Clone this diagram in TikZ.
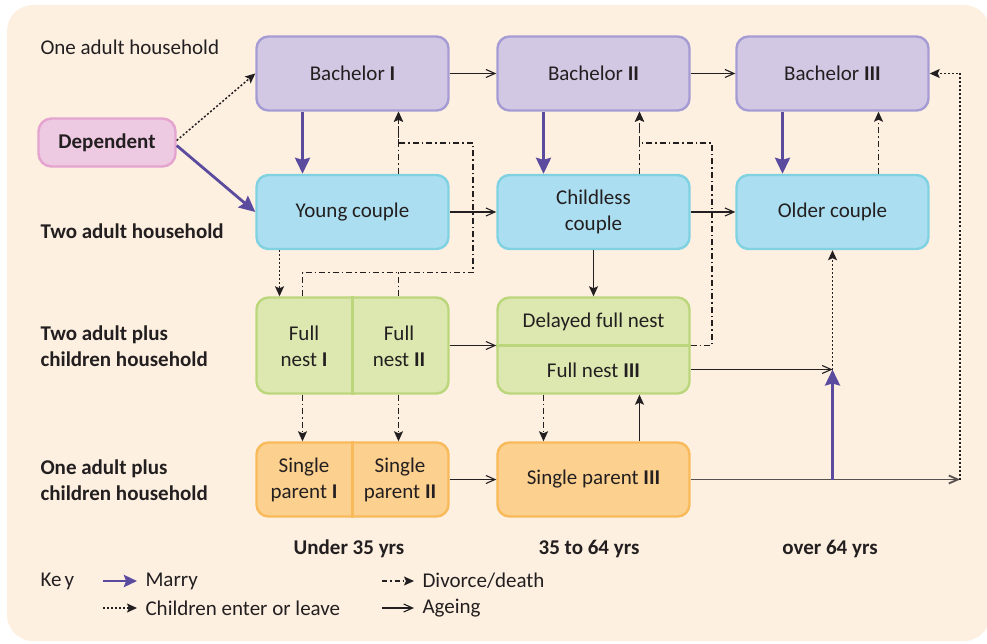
\documentclass[tikz,border=0pt]{standalone}
\usepackage{fontspec}
\setmainfont{Carlito}
\usetikzlibrary{arrows.meta}
\definecolor{bg}{HTML}{FDF0E1}
\definecolor{ink}{HTML}{231F20}
\definecolor{greyline}{HTML}{58504F}
\definecolor{marryc}{HTML}{5B4B9E}
\definecolor{bachf}{HTML}{D3C8E3}
\definecolor{bachd}{HTML}{A69CD4}
\definecolor{coupf}{HTML}{AADEF0}
\definecolor{coupd}{HTML}{80D2E2}
\definecolor{nestf}{HTML}{DCE8B0}
\definecolor{nestd}{HTML}{BCD67C}
\definecolor{sparf}{HTML}{FCD08F}
\definecolor{spard}{HTML}{F9BA5C}
\definecolor{depf}{HTML}{EEC9E2}
\definecolor{depd}{HTML}{E4A4CF}
\newcommand{\rnum}[1]{{\bfseries #1}}
\begin{document}
\begin{tikzpicture}[x=1pt,y=-1pt,
  every node/.style={font=\fontsize{21}{26}\selectfont, text=ink},
  stage/.style={rounded corners=12pt, line width=2.4pt, minimum width=192pt, minimum height=74pt, align=center, inner sep=0pt},
  bach/.style={stage, fill=bachf, draw=bachd},
  coup/.style={stage, fill=coupf, draw=coupd},
  nest/.style={stage, fill=nestf, draw=nestd},
  spar/.style={stage, fill=sparf, draw=spard},
  depn/.style={rounded corners=13pt, line width=2.4pt, minimum width=137pt, minimum height=48pt, fill=depf, draw=depd, inner sep=0pt},
  txt/.style={align=center, inner sep=0pt},
  lbl/.style={anchor=west, align=left},
  boldlbl/.style={lbl, font=\fontsize{21}{26}\selectfont\bfseries},
  marry/.style={draw=marryc, line width=2.8pt, -{Stealth[length=16pt,width=15pt,inset=2pt]}},
  ageing/.style={draw=ink, line width=1.1pt, -{Straight Barb[length=9pt,width=8pt]}},
  childs/.style={draw=ink, line width=1.5pt, dash pattern=on 2pt off 2pt, -{Stealth[length=10pt,width=9pt,inset=2pt]}},
  divline/.style={draw=ink, line width=1.4pt, dash pattern=on 6pt off 3pt on 1.5pt off 3pt},
  divorce/.style={divline, -{Stealth[length=10pt,width=9pt,inset=2pt]}},
  solidf/.style={draw=ink, line width=1.3pt, -{Stealth[length=10pt,width=9pt,inset=2pt]}}
]
\useasboundingbox (0,0) rectangle (987,644);
\fill[white] (0,0) rectangle (987,644);
\fill[bg, rounded corners=26pt] (7,5) rectangle (990,641);

% row labels
\node[lbl] (l1) at (37,47) {One adult household};
\node[boldlbl] (l2) at (37,231) {Two adult household};
\node[boldlbl] (l3) at (37,346) {Two adult plus\\children household};
\node[boldlbl] (l4) at (37,480) {One adult plus\\children household};

% stage boxes
\node[bach] (b1) at (352.5,73.5) {Bachelor \rnum{I}};
\node[bach] (b2) at (593.5,73.5) {Bachelor \rnum{II}};
\node[bach] (b3) at (832.5,73.5) {Bachelor \rnum{III}};
\node[coup] (yc) at (352.5,212) {Young couple};
\node[coup] (cc) at (593.5,212) {Childless\\couple};
\node[coup] (oc) at (832.5,212) {Older couple};
\node[nest, minimum height=96pt] (fn) at (352.5,345.5) {};
\draw[nestd, line width=2.2pt] (fn.north) -- (fn.south);
\node[txt] (fn1) at (304,346) {Full\\nest \rnum{I}};
\node[txt] (fn2) at (399,346) {Full\\nest \rnum{II}};
\node[nest, minimum height=96pt] (dfn) at (593.5,345.5) {};
\draw[nestd, line width=2.2pt] (dfn.west) -- (dfn.east);
\node[txt] (dfn1) at (593.5,322) {Delayed full nest};
\node[txt] (dfn2) at (593.5,370) {Full nest \rnum{III}};
\node[spar] (sp) at (352.5,479.5) {};
\draw[spard, line width=2.2pt] (sp.north) -- (sp.south);
\node[txt] (sp1) at (304,480) {Single\\parent \rnum{I}};
\node[txt] (sp2) at (400,480) {Single\\parent \rnum{II}};
\node[spar] (sp3) at (593.5,479.5) {Single parent \rnum{III}};
\node[depn] (dep) at (107,142.5) {\bfseries Dependent};

% connectors from Dependent
\draw[childs] ([yshift=2pt]dep.east) -- (b1.west);
\draw[marry] ([yshift=-3pt]dep.east) -- (yc.west);

% marry down
\draw[marry] ([xshift=-50pt]b1.south) -- ([xshift=-50pt]yc.north);
\draw[marry] ([xshift=-50pt]b2.south) -- ([xshift=-50pt]cc.north);
\draw[marry] ([xshift=-50pt]b3.south) -- ([xshift=-50pt]oc.north);

% ageing
\draw[ageing] (b1.east) -- (b2.west);
\draw[ageing] (b2.east) -- (b3.west);
\draw[ageing] (yc.east) -- (cc.west);
\draw[ageing] (cc.east) -- (oc.west);
\draw[ageing] (fn.east) -- (dfn.west);
\draw[ageing] (sp.east) -- (sp3.west);

% divorce / death
\draw[divorce] ([xshift=46pt]yc.north) -- ([xshift=46pt]b1.south);
\draw[divorce] ([xshift=-50pt]fn.north) -- ++(0,-24) -| (473,143) -| ([xshift=46pt]b1.south);
\draw[divline] ([xshift=46pt]fn.north) -- ++(0,-24);
\draw[divorce] ([xshift=46pt]cc.north) -- ([xshift=46pt]b2.south);
\draw[divorce] (dfn.east) -| (712,143) -| ([xshift=46pt]b2.south);
\draw[divorce] ([xshift=46pt]oc.north) -- ([xshift=46pt]b3.south);
\draw[divorce] ([xshift=-50pt]fn.south) -- ([xshift=-50pt]sp.north);
\draw[divorce] ([xshift=46pt]fn.south) -- ([xshift=46pt]sp.north);
\draw[divorce] ([xshift=-50pt]dfn.south) -- ([xshift=-50pt]sp3.north);

% children enter or leave
\draw[childs] ([xshift=-73pt]yc.south) -- ([xshift=-73pt]fn.north);

% solid filled
\draw[solidf] (cc.south) -- (dfn.north);
\draw[solidf] ([xshift=46pt]sp3.north) -- ([xshift=46pt]dfn.south);

% right side
\coordinate (m) at (832.5,369.5);
\coordinate (mj) at (832.5,479.5);
\coordinate (rj) at (960,479.5);
\draw[ageing] ([yshift=-24pt]dfn.east) -- (m);
\draw[childs] (m) -- (oc.south);
\draw[ageing, draw=greyline, line width=1.8pt] (sp3.east) -- (rj);
\draw[childs] (rj) |- (b3.east);
\draw[marry] (mj) -- (m);

% column labels
\node[font=\fontsize{21}{26}\selectfont\bfseries] (c1) at (349,549) {Under 35 yrs};
\node[font=\fontsize{21}{26}\selectfont\bfseries] (c2) at (589,549) {35 to 64 yrs};
\node[font=\fontsize{21}{26}\selectfont\bfseries] (c3) at (830,549) {over 64 yrs};

% key
\node[lbl] (key) at (37,581) {Ke\kern3pt y};
\coordinate (k1s) at (103,581); \coordinate (k1e) at (137,581);
\draw[marry, -{Stealth[length=13pt,width=12pt,inset=2pt]}] (k1s) -- (k1e);
\node[lbl] (lm) at (142,581) {Marry};
\coordinate (k2s) at (103,608); \coordinate (k2e) at (137,608);
\draw[childs] (k2s) -- (k2e);
\node[lbl] (lc) at (142,608) {Children enter or leave};
\coordinate (k3s) at (382,581); \coordinate (k3e) at (414,581);
\draw[divorce, dash pattern=on 5pt off 3pt on 1.5pt off 3pt] (k3s) -- (k3e);
\node[lbl] (ld) at (419,581) {Divorce/death};
\coordinate (k4s) at (382,608); \coordinate (k4e) at (414,608);
\draw[ageing] (k4s) -- (k4e);
\node[lbl] (la) at (419,608) {Ageing};
\end{tikzpicture}
\end{document}
